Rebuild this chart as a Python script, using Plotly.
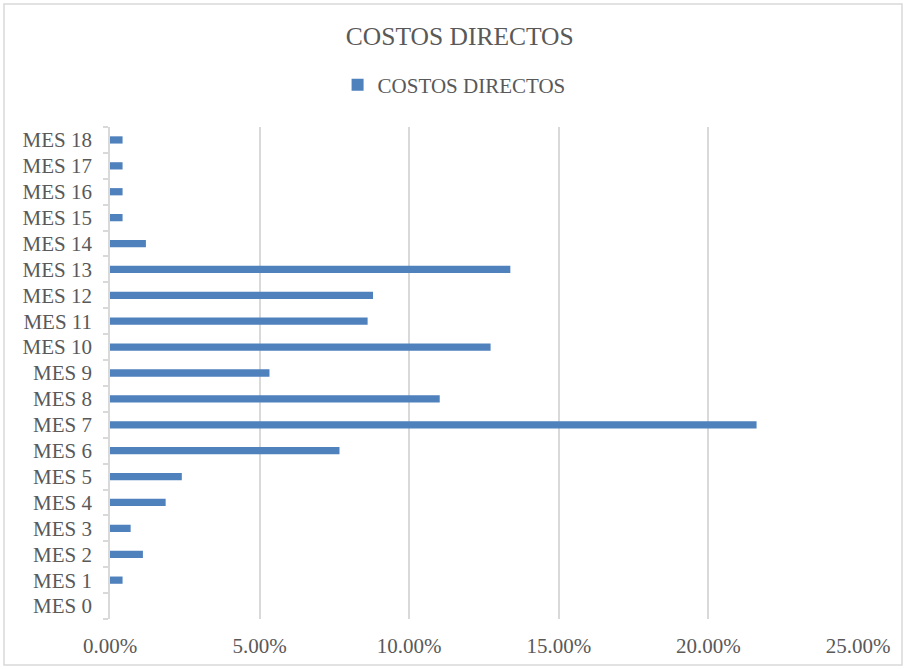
import plotly.graph_objects as go

# Monthly share of direct costs
meses = [f"MES {i}" for i in range(19)]
costos = [0.0, 0.42, 1.10, 0.69, 1.86, 2.40, 7.67, 21.61, 11.02, 5.33,
          12.72, 8.61, 8.79, 13.38, 1.20, 0.42, 0.42, 0.42, 0.42]
costos_frac = [v / 100 for v in costos]
x_ticks = [0, 0.05, 0.10, 0.15, 0.20, 0.25]

W, H = 905, 669
L, R, T, B = 110, 47, 127, 50
pw, ph = W - L - R, H - T - B

def px_x(p):
    return (p - L) / pw

def px_y(p):
    return (H - B - p) / ph

FONT = "Liberation Serif, Times New Roman, serif"
GREY = "#595959"

fig = go.Figure()
fig.add_trace(go.Bar(
    y=meses, x=costos_frac, orientation="h", name="COSTOS DIRECTOS",
    marker=dict(color="#4f81bd", line=dict(width=0)),
    showlegend=True,
))

fig.update_layout(
    width=W, height=H,
    margin=dict(l=L, r=R, t=T, b=B),
    paper_bgcolor="white", plot_bgcolor="white",
    bargap=0.72,
    font=dict(family=FONT, color=GREY, size=21),
    title=dict(text="COSTOS DIRECTOS", x=0.508, xanchor="center",
               y=1 - 36 / H, yanchor="middle", yref="container",
               font=dict(family=FONT, size=25.5, color=GREY)),
    legend=dict(orientation="h", x=0.46, xanchor="center",
                y=px_y(85), yanchor="middle", font=dict(size=21, color=GREY),
                itemwidth=30, bgcolor="rgba(0,0,0,0)"),
    xaxis=dict(range=[0, 0.25], tickvals=x_ticks, tickformat=".2%",
               showgrid=True, gridcolor="#d9d9d9", gridwidth=1.5,
               zeroline=False, showline=False, ticks="",
               ticklabelstandoff=12, fixedrange=True),
    yaxis=dict(categoryorder="array", categoryarray=meses, type="category",
               showgrid=False, zeroline=False, showline=True,
               linecolor="#d9d9d9", linewidth=1.5,
               ticks="outside", ticklen=5, tickcolor="#d9d9d9", tickwidth=1.5,
               tickson="boundaries", ticklabelstandoff=12,
               range=[-0.5, 18.5], fixedrange=True),
    shapes=[dict(type="rect", xref="paper", yref="paper",
                 x0=px_x(4), x1=px_x(902), y0=px_y(665), y1=px_y(4),
                 line=dict(color="#d9d9d9", width=1.5), layer="below")],
)

fig.write_html("out.html")
